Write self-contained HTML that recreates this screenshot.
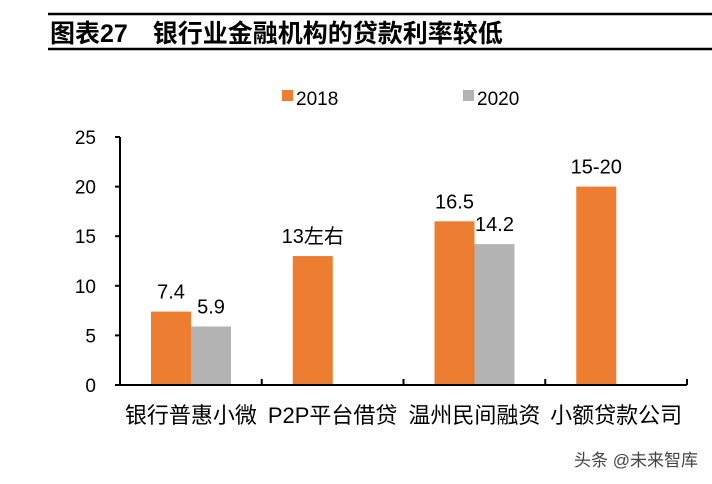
<!DOCTYPE html>
<html><head><meta charset="utf-8"><style>
body{margin:0;width:712px;height:479px;background:#fff;overflow:hidden;font-family:"Liberation Sans","Noto Sans CJK SC",sans-serif}
svg text{font-family:"Liberation Sans","Noto Sans CJK SC",sans-serif}
</style></head><body>
<svg width="712" height="479">
<line x1="48" y1="14" x2="712" y2="14" stroke="#000" stroke-width="2.5"/>
<text x="50" y="42" font-size="25" font-weight="bold">图表27　银行业金融机构的贷款利率较低</text>
<line x1="48" y1="49" x2="712" y2="49" stroke="#000" stroke-width="2.5"/>
<rect x="282" y="90" width="11" height="11" fill="#ED7D31"/>
<text x="296" y="105" font-size="19">2018</text>
<rect x="463" y="90" width="11" height="11" fill="#B3B3B3"/>
<text x="477" y="105" font-size="19">2020</text>
<g id="plot"></g>
<text x="698" y="466" font-size="17" fill="#444" text-anchor="end">头条 @未来智库</text>
</svg>
<script>
const categories=["银行普惠小微","P2P平台借贷","温州民间融资","小额贷款公司"];
const s2018=[7.4,13,16.5,20];
const s2020=[5.9,null,14.2,null];
const labels2018=["7.4","13左右","16.5","15-20"];
const labels2020=["5.9","","14.2",""];
const yTicks=[0,5,10,15,20,25];
const g=document.getElementById('plot');
const NS="http://www.w3.org/2000/svg";
const x0=120,x1=687,y0=385,y1=137,yMax=25;
const bw=(x1-x0)/categories.length;
const y=v=>y0-(v/yMax)*(y0-y1);
function el(t,a,txt){const e=document.createElementNS(NS,t);for(const k in a)e.setAttribute(k,a[k]);if(txt!==undefined)e.textContent=txt;g.appendChild(e);return e;}
yTicks.forEach(t=>{
 const e=el('text',{x:x0-24,y:y(t)+7,'font-size':19,'text-anchor':'end'},String(t));
 
 
 const l=el('line',{x1:x0-5,x2:x0,y1:y(t),y2:y(t),stroke:'#000','stroke-width':2});
 
 
});
categories.forEach((c,i)=>{
 const cx=x0+bw*i;
 const b=el('rect',{x:cx+31,y:y(s2018[i]),width:40,height:y0-y(s2018[i]),fill:'#ED7D31'});
 
 
 const t=el('text',{x:cx+51,y:y(s2018[i])-13,'font-size':20,'text-anchor':'middle'},labels2018[i]);
 
 
 if(s2020[i]!=null){
  const b2=el('rect',{x:cx+71,y:y(s2020[i]),width:40,height:y0-y(s2020[i]),fill:'#B3B3B3'});
  
  
  const t2=el('text',{x:cx+91,y:y(s2020[i])-13,'font-size':20,'text-anchor':'middle'},labels2020[i]);
  
  
 }
 const ct=el('text',{x:cx+bw/2,y:y0+38,'font-size':22,'text-anchor':'middle'},c);
 
 
 const tk=el('line',{x1:cx+bw,x2:cx+bw,y1:y0,y2:y0-6,stroke:'#000','stroke-width':2});
 
 
});
const ya=el('line',{x1:x0,x2:x0,y1:y1,y2:y0,stroke:'#000','stroke-width':2});


const xa=el('line',{x1:x0,x2:x1,y1:y0,y2:y0,stroke:'#000','stroke-width':2});


</script>
</body></html>
